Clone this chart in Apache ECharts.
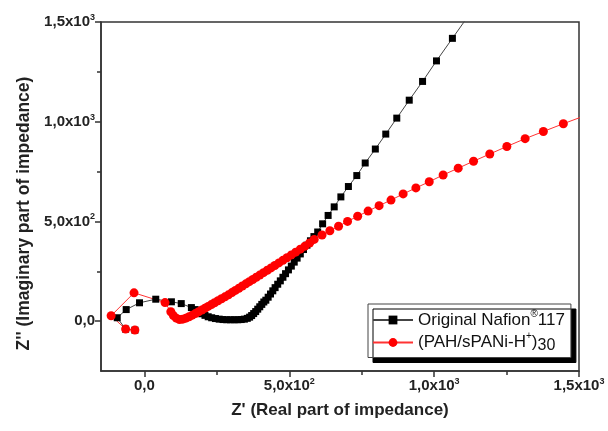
<!DOCTYPE html>
<html><head><meta charset="utf-8">
<script src="https://cdn.jsdelivr.net/npm/echarts@6/dist/echarts.min.js"></script>
<style>html,body{margin:0;padding:0;background:#fff}#c{width:608px;height:431px}</style>
</head><body><div id="c"></div>
<script>
const seriesNames = ['Original Nafion®117', '(PAH/sPANi-H+)30'];
const nafionX = [-33,-65,-94,-63,-17,39,93,127,162,175,187,198,209,220,232,245,258,271,284,297,310,322,334,345,355,363,370,377,384,391,398,405,412,419,427,435,443,451,460,469,478,487,497,507,517,527,538,549,561,573,585,598,615,634,655,678,704,733,762,797,833,871,914,960,1008,1063,1120];
const nafionY = [-45,-40,17,58,92,110,97,88,68,58,47,37,29,22,17,13,10,8,7,7,7,7,8,10,14,20,28,38,48,60,72,84,96,105,120,136,152,168,185,202,220,238,257,276,296,316,337,359,381,403,424,447,488,530,573,623,675,730,793,863,938,1018,1108,1202,1305,1418,1535];
const pahX = [-33,-65,-115,-36,71,91,100,110,121,132,143,154,165,176,187,198,209,220,231,242,254,266,278,290,302,314,326,338,350,362,374,386,398,411,424,437,450,464,478,492,507,522,538,554,570,586,613,640,670,701,736,772,810,851,893,937,983,1031,1083,1136,1192,1251,1314,1377,1446,1520];
const pahY = [-45,-40,27,142,93,47,28,15,8,10,15,22,30,38,47,56,65,74,83,92,102,112,122,132,143,154,165,176,187,198,209,220,231,243,255,267,279,292,305,318,332,346,361,376,392,410,432,453,476,500,526,552,579,607,638,668,699,733,767,802,838,876,915,951,990,1030];
const xMajorTicks = [0, 500, 1000, 1500];
const xMinorTicks = [250, 750, 1250];
const xTickLabels = ['0,0', '5,0x10^2', '1,0x10^3', '1,5x10^3'];
const yMajorTicks = [0, 500, 1000, 1500];
const yMinorTicks = [250, 750, 1250];
const yTickLabels = ['0,0', '5,0x10^2', '1,0x10^3', '1,5x10^3'];
const xTitle = "Z' (Real part of impedance)";
const yTitle = "Z'' (Imaginary part of impedance)";

const FONT = 'Liberation Sans, Arial, sans-serif';
const AX = '#333';
function fmt(ticks, labels) {
  return function (v) {
    const i = ticks.indexOf(v);
    if (i < 0) return '';
    const parts = labels[i].split('^');
    return parts[1] ? '{m|' + parts[0] + '}{e|' + parts[1] + '}' : '{m|' + parts[0] + '}';
  };
}
const labelRich = {
  m: {fontSize: 15, fontWeight: 'bold', fontFamily: FONT, color: '#222', lineHeight: 18},
  e: {fontSize: 9, fontWeight: 'bold', fontFamily: FONT, color: '#222', verticalAlign: 'top', lineHeight: 10}
};
function majorAxis(ticks, labels, minv, maxv, name, nameGap, extra) {
  return Object.assign({
    type: 'value', min: minv, max: maxv,
    axisLine: {show: true, onZero: false, lineStyle: {color: AX, width: 1.5}},
    axisTick: {show: true, customValues: ticks, length: 6, inside: false, lineStyle: {color: AX, width: 1.5}},
    axisLabel: {customValues: ticks, formatter: fmt(ticks, labels), rich: labelRich, margin: 6},
    splitLine: {show: false},
    name: name, nameLocation: 'middle', nameGap: nameGap,
    nameTextStyle: {fontSize: 17, fontWeight: 'bold', fontFamily: FONT, color: '#222'}
  }, extra || {});
}
function minorAxis(ticks, minv, maxv, extra) {
  return Object.assign({
    type: 'value', min: minv, max: maxv,
    axisLine: {show: false, onZero: false},
    axisTick: {show: true, customValues: ticks, length: 4, inside: false, lineStyle: {color: AX, width: 1.5}},
    axisLabel: {show: false, customValues: ticks},
    splitLine: {show: false}
  }, extra || {});
}
const chart = echarts.init(document.getElementById('c'), null, {renderer: 'canvas'});
chart.setOption({
  animation: false,
  backgroundColor: '#fff',
  grid: {left: 101, right: 29, top: 22, bottom: 60, show: true, borderColor: AX, borderWidth: 1.5, backgroundColor: 'transparent'},
  xAxis: [
    majorAxis(xMajorTicks, xTickLabels, -150, 1500, xTitle, 31, {position: 'bottom'}),
    minorAxis(xMinorTicks, -150, 1500, {position: 'bottom'})
  ],
  yAxis: [
    majorAxis(yMajorTicks, yTickLabels, -250, 1500, yTitle, 66, {position: 'left', nameTextStyle: {fontSize: 17.5, fontWeight: 'bold', fontFamily: FONT, color: '#222', padding: [0, 34, 0, 0]}}),
    minorAxis(yMinorTicks, -250, 1500, {position: 'left'})
  ],
  legend: {
    orient: 'vertical', left: 368, top: 304,
    data: seriesNames,
    itemWidth: 40, itemHeight: 11, itemGap: 3,
    padding: [5, 6, 4, 4],
    backgroundColor: '#fff', borderColor: '#444', borderWidth: 1,
    shadowColor: '#000', shadowBlur: 0, shadowOffsetX: 5, shadowOffsetY: 5,
    formatter: function (n) {
      return n === seriesNames[0] ? '{t|Original Nafion}{sup|®}{t|117}' : '{t|(PAH/sPANi-H}{sup|+}{t|)}{sub|30}';
    },
    textStyle: {
      rich: {
        t: {fontSize: 17, fontFamily: FONT, color: '#111', lineHeight: 22},
        sup: {fontSize: 10, fontFamily: FONT, color: '#111', verticalAlign: 'top', lineHeight: 10},
        sub: {fontSize: 16, fontFamily: FONT, color: '#111', verticalAlign: 'bottom', lineHeight: 16}
      }
    }
  },
  series: [
    {
      name: seriesNames[0], type: 'line', xAxisIndex: 0, yAxisIndex: 0,
      data: nafionX.map((x, i) => [x, nafionY[i]]),
      symbol: 'rect', symbolSize: 7, showAllSymbol: true, clip: true,
      lineStyle: {color: '#444', width: 1}, itemStyle: {color: '#000'}
    },
    {
      name: seriesNames[1], type: 'line', xAxisIndex: 0, yAxisIndex: 0,
      data: pahX.map((x, i) => [x, pahY[i]]),
      symbol: 'circle', symbolSize: 9, showAllSymbol: true, clip: true,
      lineStyle: {color: '#f33', width: 1}, itemStyle: {color: '#f00'}
    }
  ]
});
</script></body></html>
